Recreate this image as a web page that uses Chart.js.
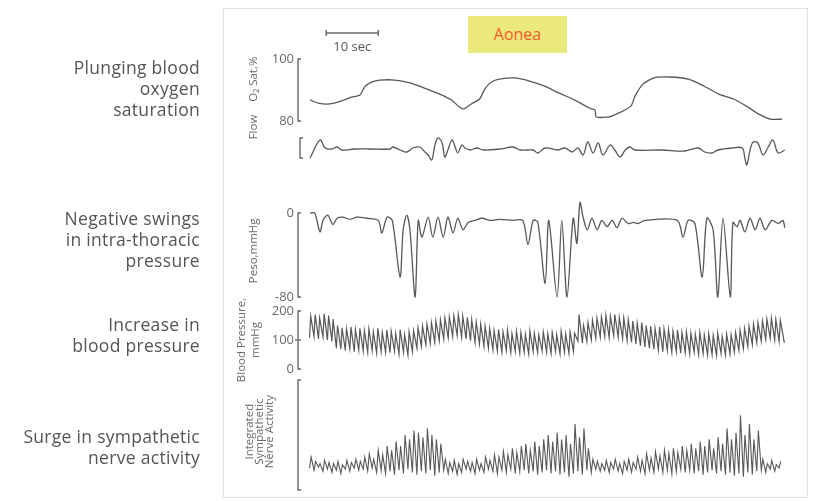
<!DOCTYPE html>
<html>
<head>
<meta charset="utf-8">
<title>Apnea recording</title>
<script src="https://cdn.jsdelivr.net/npm/chart.js@4.4.1/dist/chart.umd.min.js"></script>
<style>
  html, body { margin: 0; padding: 0; background: #fff; }
  #wrap { position: relative; width: 813px; height: 501px; overflow: hidden; font-family: "Open Sans", sans-serif; }
  #frame { position: absolute; left: 223px; top: 8px; width: 585px; height: 490px; border: 1px solid #e2e2e2; box-sizing: border-box; }
  #traces { position: absolute; left: 0; top: 0; }
  .rotulo { position: absolute; right: 613px; text-align: right; color: #555; font-size: 17.5px; letter-spacing: 0.3px; line-height: 21px; white-space: nowrap; }
  #apneia { position: absolute; left: 468px; top: 16px; width: 99px; height: 37px; background: #ece97c; color: #f05a2a; font-size: 16px; line-height: 37px; text-align: center; }
</style>
</head>
<body>
<div id="wrap">
  <div id="frame"></div>
  <canvas id="traces" width="813" height="501"></canvas>
  <div class="rotulo" style="top:57px">Plunging blood<br>oxygen<br>saturation</div>
  <div class="rotulo" style="top:208px">Negative swings<br>in intra-thoracic<br>pressure</div>
  <div class="rotulo" style="top:314px">Increase in<br>blood pressure</div>
  <div class="rotulo" style="top:426px">Surge in sympathetic<br>nerve activity</div>
  <div id="apneia">Aonea</div>
</div>
<script>
// ---- data (time in seconds) ----

// O2 saturation, %
const o2Sec = [0.4, 1.9, 4.2, 6.5, 8.4, 10.0, 10.9, 12.3, 13.8, 16.7, 19.6, 22.4, 25.3, 27.6, 29.1, 29.9, 31.4, 33.0, 34.1, 35.3, 36.8, 39.7, 42.6, 45.4, 48.3, 51.2, 54.1, 55.2, 55.4, 57.9, 59.8, 62.1, 62.9, 64.4, 66.5, 69.4, 73.2, 76.1, 79.0, 81.8, 84.3, 86.6, 88.9, 91.2];
const o2Pct = [86.8, 85.8, 85.5, 86.5, 87.7, 88.4, 91.0, 92.6, 93.2, 93.2, 92.3, 90.6, 88.7, 86.8, 84.5, 83.9, 85.5, 87.1, 90.6, 92.6, 93.5, 93.9, 92.9, 91.3, 89.0, 86.8, 84.2, 83.5, 81.3, 81.3, 82.6, 84.8, 88.1, 91.9, 93.9, 94.2, 93.5, 91.3, 88.7, 87.1, 84.8, 82.3, 80.6, 80.6];

// airflow, arbitrary units
const flowSec = [0.4, 2.3, 3.3, 4.6, 5.6, 6.5, 9.0, 11.9, 15.8, 16.3, 17.7, 19.0, 20.2, 21.5, 22.5, 23.1, 23.8, 24.4, 25.0, 25.8, 26.3, 26.9, 27.7, 28.3, 28.8, 29.6, 30.2, 31.2, 32.5, 33.7, 36.9, 39.4, 40.8, 43.3, 44.2, 45.6, 48.1, 49.4, 50.8, 51.9, 52.9, 53.8, 54.8, 55.8, 56.7, 58.1, 59.0, 60.0, 61.0, 61.9, 62.9, 68.1, 72.5, 75.0, 76.3, 77.7, 78.8, 81.5, 83.5, 84.0, 84.4, 85.0, 85.6, 86.5, 87.5, 88.5, 89.4, 90.4, 91.7];
const flowVal = [-1.0, 0.8, 0.0, -0.1, 0.1, -0.2, -0.1, -0.1, -0.1, 0.1, -0.2, -0.4, 0.0, 0.1, -0.4, -0.7, -1.2, 0.3, 1.0, 0.5, -0.9, -0.2, 0.8, 0.1, -0.5, 0.3, 0.0, -0.2, 0.0, -0.2, -0.1, 0.1, -0.2, -0.2, -0.5, 0.0, -0.2, 0.0, -0.4, 0.0, -0.7, 0.6, -0.5, 0.5, -0.7, 0.3, -0.2, -0.9, -0.2, 0.1, -0.2, -0.2, -0.3, 0.0, -0.4, -0.5, -0.2, 0.0, 0.0, -1.0, -1.7, -0.2, 0.6, 0.5, -0.7, 0.1, 0.8, -0.5, -0.2];

// oesophageal pressure, mmHg
const pesoSec = [0.4, 1.3, 2.3, 2.9, 3.8, 4.8, 5.6, 6.7, 8.1, 9.4, 11.3, 13.5, 14.2, 15.2, 16.2, 17.7, 18.3, 19.0, 19.6, 20.6, 21.2, 21.9, 23.1, 24.0, 25.0, 26.0, 26.9, 27.9, 28.8, 29.8, 30.8, 32.1, 33.5, 35.0, 36.9, 39.4, 41.3, 42.3, 43.3, 44.2, 45.6, 46.3, 47.9, 48.8, 49.8, 51.0, 51.7, 52.3, 52.9, 53.7, 54.6, 55.6, 56.5, 57.5, 58.5, 59.4, 60.4, 61.5, 62.5, 63.5, 64.8, 71.0, 72.1, 73.1, 74.4, 75.8, 76.7, 77.9, 78.8, 79.8, 81.2, 81.7, 82.5, 83.1, 84.0, 85.0, 86.0, 86.9, 87.9, 89.2, 90.4, 91.3, 91.7];
const pesoMmHg = [0, 0, -18, -7, -2, -11, -5, -4, -6, -4, -5, -7, -19, -4, -7, -61, -16, -2, -16, -80, -7, -23, -4, -23, -4, -23, -4, -19, -5, -16, -9, -7, -5, -7, -6, -7, -7, -30, -7, -9, -67, -7, -80, -7, -80, -5, -29, 10, -4, -16, -5, -16, -7, -13, -7, -14, -5, -10, -9, -10, -7, -7, -23, -7, -10, -61, -5, -16, -80, -5, -80, -9, -13, -7, -18, -5, -16, -5, -16, -7, -10, -7, -14];

// beat-by-beat arterial pressure, mmHg
const beatFirstSec = 0.3;
const beatPeriodSec = 0.86;
const bpSystolic = [
  182, 188, 176, 190, 184, 172, 150, 142, 138, 145, 136, 140, 132, 138, 128, 140, 126, 134,
  130, 122, 136, 118, 128, 132, 142, 148, 155, 160, 166, 170, 176, 180, 184, 188, 182, 178,
  170, 162, 155, 148, 140, 132, 136, 128, 134, 122, 130, 126, 120, 132, 124, 118, 128, 122,
  126, 118, 130, 120, 128, 124, 188, 150, 160, 168, 175, 180, 185, 182, 188, 178, 176, 170,
  165, 158, 160, 150, 148, 140, 145, 138, 136, 130, 134, 126, 128, 124, 120, 126, 118, 122,
  116, 124, 112, 120, 118, 126, 134, 140, 148, 155, 160, 166, 172, 176, 170, 168
];
const bpDiastolic = [
  108, 112, 104, 110, 100, 96, 72, 68, 64, 70, 60, 66, 62, 58, 64, 55, 60, 58,
  56, 62, 52, 58, 48, 60, 72, 78, 84, 88, 92, 98, 104, 108, 112, 116, 110, 104,
  98, 92, 86, 78, 72, 66, 62, 58, 64, 56, 60, 55, 58, 52, 60, 56, 62, 58,
  55, 60, 52, 58, 54, 60, 96, 90, 95, 100, 106, 110, 112, 108, 115, 110, 104, 98,
  92, 86, 80, 76, 72, 68, 66, 60, 64, 58, 60, 55, 56, 52, 58, 50, 54, 48,
  50, 46, 54, 48, 52, 58, 64, 70, 78, 84, 90, 96, 102, 106, 100, 95
];

// integrated sympathetic nerve activity per beat, arbitrary units
const snaPeak = [
  30, 26, 24, 27, 25, 24, 26, 23, 27, 25, 28, 26, 30, 33, 28, 36, 32, 40,
  36, 44, 40, 50, 46, 54, 52, 48, 56, 50, 46, 42, 28, 25, 27, 24, 28, 26,
  25, 28, 24, 30, 27, 32, 30, 35, 32, 38, 34, 40, 42, 36, 44, 40, 46, 50,
  44, 52, 46, 50, 42, 60, 48, 56, 38, 28, 26, 24, 27, 25, 28, 24, 26, 28,
  25, 30, 27, 33, 29, 35, 31, 36, 33, 38, 34, 40, 36, 42, 38, 44, 40, 46,
  38, 48, 42, 56, 46, 52, 68, 50, 60, 46, 54, 28, 24, 27, 23, 26
];
const snaTrough = [
  20, 18, 21, 17, 19, 16, 18, 15, 19, 17, 20, 18, 19, 17, 20, 16, 18, 15,
  17, 14, 18, 15, 19, 16, 14, 17, 15, 18, 13, 16, 18, 15, 17, 14, 16, 19,
  17, 15, 18, 16, 19, 17, 15, 18, 16, 19, 15, 17, 18, 15, 17, 14, 16, 18,
  15, 17, 14, 16, 12, 15, 17, 14, 18, 16, 19, 17, 18, 16, 19, 17, 15, 18,
  16, 19, 17, 15, 18, 16, 19, 16, 18, 15, 17, 19, 16, 18, 15, 17, 14, 16,
  18, 15, 17, 14, 16, 13, 15, 12, 16, 14, 17, 18, 16, 19, 17, 20
];

// axis labels
const o2Ticks = [100, 80];
const pesoTicks = [0, -80];
const bpTicks = [200, 100, 0];

// ---- layout ----
const AREA_TOP = 8;
const AREA_BOTTOM = 497;
const TRACE_COLOR = '#585858';
const AXIS_COLOR = '#6a6a6a';

// min/max that put value v1 at pixel p1 and v2 at pixel p2 inside the plot area
function axisRange(v1, p1, v2, p2) {
  const k = (p1 - p2) / (v2 - v1);
  const min = v1 - (AREA_BOTTOM - p1) / k;
  return { min: min, max: min + (AREA_BOTTOM - AREA_TOP) / k };
}

function pares(xs, ys) {
  return xs.map((x, i) => ({ x: x, y: ys[i] }));
}

// each beat: foot of the wave, then its peak
function batimentos(low, high, riseSec) {
  const pts = [];
  low.forEach((v, i) => {
    const t = beatFirstSec + i * beatPeriodSec;
    pts.push({ x: t, y: v });
    pts.push({ x: t + riseSec, y: high[i] });
  });
  return pts;
}

// brackets, tick labels and rotated titles of each trace
const eixos = [
  { axis: 'yO2', from: 100, to: 80, ticks: o2Ticks, gap: 10, title: ['O\u2082 Sat,%'], titleAt: 93.5, titleX: [254] },
  { axis: 'yFlow', from: 1, to: -1, ticks: [], gap: 8, title: ['Flow'], titleAt: 2.1, titleX: [254] },
  { axis: 'yPeso', from: 0, to: -80, ticks: pesoTicks, gap: 10, title: ['Peso,mmHg'], titleAt: -36, titleX: [254] },
  { axis: 'yBp', from: 200, to: 0, ticks: bpTicks, gap: 10, title: ['Blood Pressure,', 'mmHg'], titleAt: 100, titleX: [242, 256] },
  { axis: 'ySna', from: 100, to: 0, ticks: [], gap: 10, title: ['Integrated', 'Sympathetic', 'Nerve Activity'], titleAt: 53, titleX: [250, 260, 270] }
];

const decorPlugin = {
  id: 'decor',
  afterDraw(chart) {
    const ctx = chart.ctx;
    const area = chart.chartArea;
    ctx.save();
    ctx.strokeStyle = AXIS_COLOR;
    ctx.fillStyle = AXIS_COLOR;
    ctx.lineWidth = 1.4;

    eixos.forEach(e => {
      const s = chart.scales[e.axis];
      const x = area.left - e.gap;
      const yTop = s.getPixelForValue(e.from);
      const yBot = s.getPixelForValue(e.to);
      ctx.beginPath();
      ctx.moveTo(x + 3, yTop);
      ctx.lineTo(x, yTop);
      ctx.lineTo(x, yBot);
      ctx.lineTo(x + 3, yBot);
      ctx.stroke();

      ctx.font = '13px "Open Sans", sans-serif';
      ctx.textAlign = 'right';
      ctx.textBaseline = 'middle';
      e.ticks.forEach(v => {
        const y = s.getPixelForValue(v);
        if (v !== e.from && v !== e.to) {
          ctx.beginPath();
          ctx.moveTo(x - 3, y);
          ctx.lineTo(x + 3, y);
          ctx.stroke();
        }
        ctx.fillText(String(v).replace('-', '\u2011'), x - 4, y);
      });

      const yt = s.getPixelForValue(e.titleAt);
      ctx.font = '11.5px "Open Sans", sans-serif';
      ctx.textAlign = 'center';
      e.title.forEach((linha, i) => {
        ctx.save();
        ctx.translate(e.titleX[i], yt);
        ctx.rotate(-Math.PI / 2);
        ctx.fillText(linha, 0, 0);
        ctx.restore();
      });
    });

    // 10 second calibration bar
    const xs = chart.scales.x;
    const x1 = xs.getPixelForValue(3.5);
    const x2 = xs.getPixelForValue(13.5);
    const yb = area.top + 25;
    ctx.lineWidth = 1.5;
    ctx.beginPath();
    ctx.moveTo(x1, yb - 3); ctx.lineTo(x1, yb + 3);
    ctx.moveTo(x1, yb); ctx.lineTo(x2, yb);
    ctx.moveTo(x2, yb - 3); ctx.lineTo(x2, yb + 3);
    ctx.stroke();
    ctx.font = '13px "Open Sans", sans-serif';
    ctx.textAlign = 'center';
    ctx.fillStyle = '#555';
    ctx.fillText('10 sec', (x1 + x2) / 2, yb + 14);
    ctx.restore();
  }
};

function serie(data, axis, tension, width) {
  return {
    data: data,
    yAxisID: axis,
    borderColor: TRACE_COLOR,
    borderWidth: width,
    pointRadius: 0,
    tension: tension,
    fill: false
  };
}

function desenharRegistro() {
  const ctx = document.getElementById('traces').getContext('2d');
  const bp = batimentos(bpDiastolic, bpSystolic, 0.22);
  bp.push({ x: 91.6, y: 90 });

  new Chart(ctx, {
    type: 'line',
    data: {
      datasets: [
        serie(pares(o2Sec, o2Pct), 'yO2', 0.2, 1.3),
        serie(pares(flowSec, flowVal), 'yFlow', 0.35, 1.3),
        serie(pares(pesoSec, pesoMmHg), 'yPeso', 0.3, 1.3),
        serie(bp, 'yBp', 0, 1.2),
        serie(batimentos(snaTrough, snaPeak, 0.3), 'ySna', 0, 1.1)
      ]
    },
    options: {
      responsive: false,
      animation: false,
      events: [],
      layout: { padding: { left: 308, right: 25, top: AREA_TOP, bottom: 501 - AREA_BOTTOM } },
      plugins: { legend: { display: false }, tooltip: { enabled: false } },
      scales: {
        x: { type: 'linear', display: false, min: 0, max: 92.3 },
        yO2: { type: 'linear', display: false, ...axisRange(100, 59, 80, 121) },
        yFlow: { type: 'linear', display: false, ...axisRange(1, 138, -1, 158) },
        yPeso: { type: 'linear', display: false, ...axisRange(0, 213, -80, 297) },
        yBp: { type: 'linear', display: false, ...axisRange(200, 311, 0, 369) },
        ySna: { type: 'linear', display: false, ...axisRange(100, 380, 0, 490) }
      }
    },
    plugins: [decorPlugin]
  });
}

window.onload = desenharRegistro;
</script>
</body>
</html>
